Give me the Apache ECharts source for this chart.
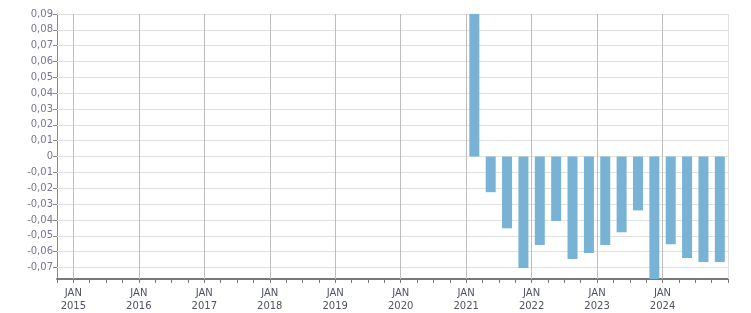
<!DOCTYPE html>
<html>
<head>
<meta charset="utf-8">
<script src="https://cdn.jsdelivr.net/npm/echarts@6/dist/echarts.min.js"></script>
<style>html,body{margin:0;padding:0;background:#fff}#c{width:751px;height:313px}</style>
</head>
<body>
<div id="c"></div>
<script>
// Quarterly periods
const quarters = ['2021-Q1','2021-Q2','2021-Q3','2021-Q4',
                  '2022-Q1','2022-Q2','2022-Q3','2022-Q4',
                  '2023-Q1','2023-Q2','2023-Q3','2023-Q4',
                  '2024-Q1','2024-Q2','2024-Q3','2024-Q4'];
const values = [0.09, -0.0225, -0.0453, -0.0703,
                -0.0559, -0.0407, -0.0647, -0.0609,
                -0.0559, -0.0478, -0.034, -0.0773,
                -0.0553, -0.064, -0.0666, -0.0666];
const yTicks = [-0.07,-0.06,-0.05,-0.04,-0.03,-0.02,-0.01,0,0.01,0.02,0.03,0.04,0.05,0.06,0.07,0.08,0.09];
const yearTicks = [2015,2016,2017,2018,2019,2020,2021,2022,2023,2024];
const xStart = 2014.75, xEnd = 2025;
const yMin = -0.0773, yMax = 0.09;

// quarter string -> fractional year at the middle of the quarter
const qPos = s => { const p = s.split('-Q'); return +p[0] + (+p[1] - 0.5) / 4; };

const chart = echarts.init(document.getElementById('c'), null, {renderer:'canvas'});
const fmtY = v => Math.abs(v) < 1e-9 ? '0' : v.toFixed(2).replace('.', ',');
chart.setOption({
  animation:false,
  grid:{left:57, right:23, top:14, bottom:32, containLabel:false},
  xAxis:{
    type:'value', min:xStart, max:xEnd, interval:0.25,
    axisLine:{onZero:false, lineStyle:{color:'#777', width:2}},
    axisTick:{show:true, length:4, lineStyle:{color:'#777'}},
    splitLine:{show:false},
    axisLabel:{
      color:'#4e5263', fontFamily:'Verdana, DejaVu Sans', fontSize:10, lineHeight:13, margin:8,
      hideOverlap:false, showMinLabel:true, showMaxLabel:true,
      formatter:function(v){
        const r = Math.round(v);
        if (Math.abs(v - r) > 1e-6 || r < 2015 || r > 2024) return '';
        return 'JAN\n' + r;
      }
    }
  },
  yAxis:{
    type:'value', min:yMin, max:yMax,
    axisLine:{show:true, lineStyle:{color:'#888', width:1}},
    axisTick:{show:true, length:4, customValues:yTicks, lineStyle:{color:'#888'}},
    splitLine:{show:false},
    axisLabel:{color:'#7a7394', fontFamily:'Verdana, DejaVu Sans', fontSize:10, margin:4,
      customValues:yTicks, formatter:fmtY}
  },
  series:[{
    type:'line', data:[], silent:true, z:1,
    markLine:{
      z:1, silent:true, symbol:'none', animation:false, label:{show:false},
      lineStyle:{color:'#e0e0e0', type:'solid', width:1},
      data:yTicks.map(v=>({yAxis:v})).concat([{xAxis:xEnd}])
    }
  },{
    type:'line', data:[], silent:true, z:1,
    markLine:{
      z:2, silent:true, symbol:'none', animation:false, label:{show:false},
      lineStyle:{color:'#bdbdbd', type:'solid', width:1},
      data:yearTicks.map(v=>({xAxis:v}))
    }
  },{
    type:'bar', barWidth:10, clip:true, z:10,
    itemStyle:{color:'#78b2d4'},
    data:quarters.map((q,i)=>[qPos(q), values[i]])
  }]
});
</script>
</body>
</html>
